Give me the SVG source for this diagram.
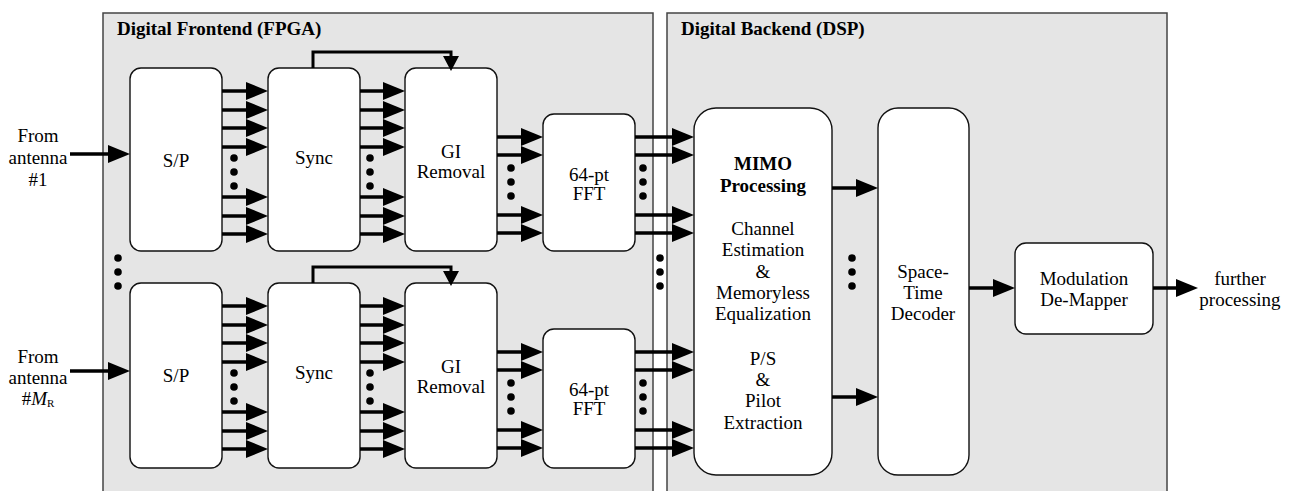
<svg xmlns="http://www.w3.org/2000/svg" width="1298" height="491" viewBox="0 0 1298 491">
<style>
.panel{fill:#e5e5e5;stroke:#444;stroke-width:1.5}
.box{fill:#fff;stroke:#111;stroke-width:1.4}
text{font-family:'Liberation Serif','Times New Roman','DejaVu Serif',serif;font-size:19px;fill:#000}
.t{text-anchor:middle;font-weight:normal}
.tb{font-weight:bold}
.a{stroke:#000;stroke-width:3.5;fill:none;marker-end:url(#ah)}
.fb{stroke:#000;stroke-width:3;fill:none;marker-end:url(#ahd)}
.dot{fill:#000}
</style>
<defs>
<marker id="ah" markerUnits="userSpaceOnUse" markerWidth="22" markerHeight="18" refX="12" refY="9" orient="auto" overflow="visible">
<path d="M0,0 L22,9 L0,18 Z" fill="#000"/>
</marker>
<marker id="ahd" markerUnits="userSpaceOnUse" markerWidth="15" markerHeight="16" refX="6" refY="8" orient="auto" overflow="visible">
<path d="M0,0 L15,8 L0,16 Z" fill="#000"/>
</marker>
<g id="dots3"><circle cx="0" cy="0" r="3.8"/><circle cx="0" cy="14" r="3.8"/><circle cx="0" cy="28" r="3.8"/></g>
</defs>

<g id="panel-frontend">
<rect class="panel" x="103" y="13" width="550" height="495"/>
<text class="tb" x="117" y="35">Digital Frontend (FPGA)</text>
</g>
<g id="panel-backend">
<rect class="panel" x="667" y="13" width="500" height="495"/>
<text class="tb" x="681" y="35">Digital Backend (DSP)</text>
</g>

<g id="label-ant1">
<text class="t" x="38" y="142">From</text>
<text class="t" x="38" y="164">antenna</text>
<text class="t" x="38" y="186">#1</text>
</g>
<g id="label-antMR">
<text class="t" x="38" y="363">From</text>
<text class="t" x="38" y="384">antenna</text>
<text class="t" x="38" y="405">#<tspan font-style="italic">M</tspan><tspan font-size="11" dy="2">R</tspan></text>
</g>

<g id="sp1"><rect class="box" x="130" y="68" width="92" height="183" rx="11"/><text class="t" x="176" y="167">S/P</text></g>
<g id="sync1"><rect class="box" x="268" y="68" width="92" height="183" rx="11"/><text class="t" x="314" y="164">Sync</text></g>
<g id="gi1"><rect class="box" x="405" y="68" width="92" height="183" rx="11"/><text class="t" x="451" y="158">GI</text><text class="t" x="451" y="178">Removal</text></g>
<g id="fft1"><rect class="box" x="543" y="114" width="92" height="137" rx="11"/><text class="t" x="589" y="181">64-pt</text><text class="t" x="589" y="200">FFT</text></g>

<g id="sp2"><rect class="box" x="130" y="283" width="92" height="185" rx="11"/><text class="t" x="176" y="382">S/P</text></g>
<g id="sync2"><rect class="box" x="268" y="283" width="92" height="185" rx="11"/><text class="t" x="314" y="379">Sync</text></g>
<g id="gi2"><rect class="box" x="405" y="283" width="92" height="185" rx="11"/><text class="t" x="451" y="373">GI</text><text class="t" x="451" y="393">Removal</text></g>
<g id="fft2"><rect class="box" x="543" y="329" width="92" height="139" rx="11"/><text class="t" x="589" y="396">64-pt</text><text class="t" x="589" y="415">FFT</text></g>

<g id="mimo"><rect class="box" x="694" y="108" width="138" height="367" rx="22"/>
<text class="t" x="763" y="170" style="font-weight:bold">MIMO</text>
<text class="t" x="763" y="192" style="font-weight:bold">Processing</text>
<text class="t" x="763" y="235">Channel</text>
<text class="t" x="763" y="256">Estimation</text>
<text class="t" x="763" y="278">&amp;</text>
<text class="t" x="763" y="299">Memoryless</text>
<text class="t" x="763" y="320">Equalization</text>
<text class="t" x="763" y="365">P/S</text>
<text class="t" x="763" y="386">&amp;</text>
<text class="t" x="763" y="407">Pilot</text>
<text class="t" x="763" y="429">Extraction</text>
</g>
<g id="std"><rect class="box" x="878" y="108" width="91" height="367" rx="20"/>
<text class="t" x="923" y="278">Space-</text>
<text class="t" x="923" y="299">Time</text>
<text class="t" x="923" y="320">Decoder</text>
</g>
<g id="demapper"><rect class="box" x="1015" y="243" width="138" height="91" rx="11"/>
<text class="t" x="1084" y="285">Modulation</text>
<text class="t" x="1084" y="306">De-Mapper</text>
</g>
<g id="label-out">
<text class="t" x="1240" y="285">further</text>
<text class="t" x="1240" y="306">processing</text>
</g>

<g id="connectors">
<line class="a" x1="70" y1="154" x2="120" y2="154"/>
<line class="a" x1="70" y1="371" x2="120" y2="371"/>
<path class="a" d="M222,91H258"/><path class="a" d="M222,110H258"/><path class="a" d="M222,128H258"/><path class="a" d="M222,147H258"/>
<path class="a" d="M222,197H258"/><path class="a" d="M222,216H258"/><path class="a" d="M222,234H258"/>
<path class="a" d="M360,91H395"/><path class="a" d="M360,110H395"/><path class="a" d="M360,128H395"/><path class="a" d="M360,147H395"/>
<path class="a" d="M360,197H395"/><path class="a" d="M360,216H395"/><path class="a" d="M360,234H395"/>
<path class="a" d="M497,137H533"/><path class="a" d="M497,155H533"/><path class="a" d="M497,215H533"/><path class="a" d="M497,233H533"/>
<path class="a" d="M635,137H684"/><path class="a" d="M635,155H684"/><path class="a" d="M635,215H684"/><path class="a" d="M635,233H684"/>
<path class="a" d="M222,306H258"/><path class="a" d="M222,325H258"/><path class="a" d="M222,343H258"/><path class="a" d="M222,362H258"/>
<path class="a" d="M222,412H258"/><path class="a" d="M222,431H258"/><path class="a" d="M222,449H258"/>
<path class="a" d="M360,306H395"/><path class="a" d="M360,325H395"/><path class="a" d="M360,343H395"/><path class="a" d="M360,362H395"/>
<path class="a" d="M360,412H395"/><path class="a" d="M360,431H395"/><path class="a" d="M360,449H395"/>
<path class="a" d="M497,352H533"/><path class="a" d="M497,370H533"/><path class="a" d="M497,430H533"/><path class="a" d="M497,448H533"/>
<path class="a" d="M635,352H684"/><path class="a" d="M635,370H684"/><path class="a" d="M635,430H684"/><path class="a" d="M635,448H684"/>
<path class="fb" d="M313,68V52H451V62"/>
<path class="fb" d="M313,283V267H451V277"/>
<path class="a" d="M832,188H868"/>
<path class="a" d="M832,397H868"/>
<path class="a" d="M969,288H1005"/>
<path class="a" d="M1153,288H1188"/>
</g>

<g id="ellipses" class="dot">
<use href="#dots3" x="234" y="158"/>
<use href="#dots3" x="370" y="158"/>
<use href="#dots3" x="511" y="168"/>
<use href="#dots3" x="643" y="168"/>
<use href="#dots3" x="234" y="373"/>
<use href="#dots3" x="370" y="373"/>
<use href="#dots3" x="511" y="383"/>
<use href="#dots3" x="643" y="383"/>
<use href="#dots3" x="118" y="258"/>
<use href="#dots3" x="660" y="258"/>
<use href="#dots3" x="852" y="258"/>
</g>
</svg>
